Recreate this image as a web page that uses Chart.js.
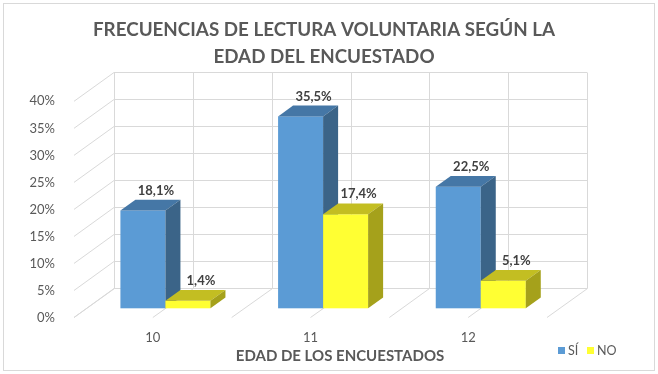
<!DOCTYPE html>
<html><head><meta charset="utf-8">
<script src="https://cdn.jsdelivr.net/npm/chart.js@4.4.0/dist/chart.umd.min.js"></script>
<style>html,body{margin:0;padding:0;background:#fff;} #wrap{width:658px;height:374px;position:relative;}</style>
</head><body><div id="wrap"><canvas id="c"></canvas></div>
<script>
// ---- data ----
const categories = ['10', '11', '12'];
const seriesNames = ['SÍ', 'NO'];
const siValues = [18.1, 35.5, 22.5];
const noValues = [1.4, 17.4, 5.1];
const yTickValues = [0, 5, 10, 15, 20, 25, 30, 35, 40];
const titleLines = ['FRECUENCIAS DE LECTURA VOLUNTARIA SEGÚN LA', 'EDAD DEL ENCUESTADO'];
const xAxisTitle = 'EDAD DE LOS ENCUESTADOS';

// ---- style ----
const FRONT = ['#5B9BD5', '#FFFF33'];
const TOPC = ['#4577A6', '#C3BE22'];
const SIDE = ['#3B6488', '#A5A11B'];
const GRID = '#d9d9d9';
const TXT = '#595959';
const FONT = 'Lato, "Open Sans", sans-serif';
// 3D geometry (px)
const WALL = {dx: 40, dy: -29.2};   // floor depth
const PLANE = {dx: 12.6, dy: -9.2}; // bar front plane offset
const DEPTH = {dx: 15, dy: -10.8};  // bar depth

const fmt = v => v.toFixed(1).replace('.', ',') + '%';

const threeD = {
  id: 'threeD',
  beforeDraw(chart) {
    const ctx = chart.ctx;
    ctx.save();
    ctx.fillStyle = '#fff';
    ctx.fillRect(0, 0, chart.width, chart.height);
    ctx.strokeStyle = GRID; ctx.lineWidth = 1;
    ctx.strokeRect(3.5, 3.5, chart.width - 7, chart.height - 7);
    ctx.restore();
  },
  beforeDatasetsDraw(chart) {
    const ctx = chart.ctx, a = chart.chartArea;
    const yS = chart.scales.y, xS = chart.scales.x;
    ctx.save();
    ctx.strokeStyle = GRID; ctx.lineWidth = 1;
    const ln = (x1, y1, x2, y2) => { ctx.beginPath(); ctx.moveTo(x1, y1); ctx.lineTo(x2, y2); ctx.stroke(); };
    // side wall diagonals + back wall horizontals
    yS.ticks.forEach(t => {
      const py = yS.getPixelForValue(t.value);
      const by = Math.round(py + WALL.dy) + 0.5;
      ln(a.left, py, a.left + WALL.dx, by);
      ln(a.left + WALL.dx, by, a.right + WALL.dx, by);
    });
    // back wall verticals + floor diagonals
    const topY = Math.round(yS.getPixelForValue(yS.max) + WALL.dy) + 0.5;
    const botY = Math.round(a.bottom + WALL.dy) + 0.5;
    for (let v = -0.5; v <= categories.length - 0.5 + 1e-6; v += 0.5) {
      const px = xS.getPixelForValue(v);
      const bx = Math.round(px + WALL.dx) + 0.5;
      ln(bx, topY, bx, botY);
      ln(px, a.bottom, bx, botY);
    }
    // bars
    chart.data.datasets.forEach((ds, d) => {
      const meta = chart.getDatasetMeta(d);
      meta.data.forEach((bar, i) => {
        const p = bar.getProps(['x', 'y', 'base', 'width'], true);
        const L = p.x - p.width / 2 + PLANE.dx, R = p.x + p.width / 2 + PLANE.dx;
        const T = p.y + PLANE.dy, B = p.base + PLANE.dy;
        ctx.fillStyle = ds.backgroundColor;
        ctx.fillRect(L, T, R - L, B - T);
        ctx.fillStyle = TOPC[d];
        ctx.beginPath(); ctx.moveTo(L, T); ctx.lineTo(R, T); ctx.lineTo(R + DEPTH.dx, T + DEPTH.dy); ctx.lineTo(L + DEPTH.dx, T + DEPTH.dy); ctx.closePath(); ctx.fill();
        ctx.fillStyle = SIDE[d];
        ctx.beginPath(); ctx.moveTo(R, T); ctx.lineTo(R + DEPTH.dx, T + DEPTH.dy); ctx.lineTo(R + DEPTH.dx, B + DEPTH.dy); ctx.lineTo(R, B); ctx.closePath(); ctx.fill();
      });
    });
    // data labels
    ctx.fillStyle = '#404040';
    ctx.font = 'bold 13px ' + FONT;
    ctx.textAlign = 'center'; ctx.textBaseline = 'middle';
    chart.data.datasets.forEach((ds, d) => {
      chart.getDatasetMeta(d).data.forEach((bar, i) => {
        const p = bar.getProps(['x', 'y'], true);
        ctx.fillText(fmt(ds.data[i]), p.x + PLANE.dx + 13, p.y + PLANE.dy - 20);
      });
    });
    // x axis title
    ctx.fillStyle = TXT;
    ctx.font = 'bold 15px ' + FONT;
    ctx.fillText(xAxisTitle, 340, 356);
    // legend
    ctx.font = '12.5px ' + FONT;
    ctx.textAlign = 'left';
    const lx = [558, 587];
    chart.data.datasets.forEach((ds, d) => {
      ctx.fillStyle = ds.backgroundColor;
      ctx.fillRect(lx[d], 347, 7, 7);
      ctx.fillStyle = TXT;
      ctx.fillText(ds.label, lx[d] + 10, 351);
    });
    ctx.restore();
    return false;
  }
};

new Chart(document.getElementById('c'), {
  type: 'bar',
  data: {
    labels: categories,
    datasets: [
      {label: seriesNames[0], data: siValues, backgroundColor: FRONT[0]},
      {label: seriesNames[1], data: noValues, backgroundColor: FRONT[1]}
    ]
  },
  options: {
    responsive: true,
    maintainAspectRatio: false,
    animation: false,
    devicePixelRatio: 1,
    layout: {padding: {top: 0, left: 0, right: 10, bottom: 0}},
    datasets: {bar: {categoryPercentage: 0.571, barPercentage: 1.0}},
    plugins: {
      legend: {display: false},
      tooltip: {enabled: false},
      title: {
        display: true,
        text: titleLines,
        color: TXT,
        font: {family: FONT, size: 18.8, weight: 'bold', lineHeight: 27 / 18.8},
        padding: {top: 16.5, bottom: 30.8}
      }
    },
    scales: {
      x: {
        grid: {display: false},
        border: {display: false},
        ticks: {color: TXT, font: {family: FONT, size: 13}, padding: 5},
        afterFit(s) { s.height = 56.5; }
      },
      y: {
        min: 0, max: 40,
        afterBuildTicks(s) { s.ticks = yTickValues.map(v => ({value: v})); },
        grid: {display: false},
        border: {display: false},
        ticks: {color: TXT, font: {family: FONT, size: 13}, padding: 11, callback: v => v + '%'},
        afterFit(s) { s.width = 74; }
      },
      yRight: {
        position: 'right',
        min: 0, max: 40,
        grid: {display: false},
        border: {display: false},
        ticks: {display: false},
        afterFit(s) { s.width = 101; }
      }
    }
  },
  plugins: [threeD]
});
</script></body></html>
